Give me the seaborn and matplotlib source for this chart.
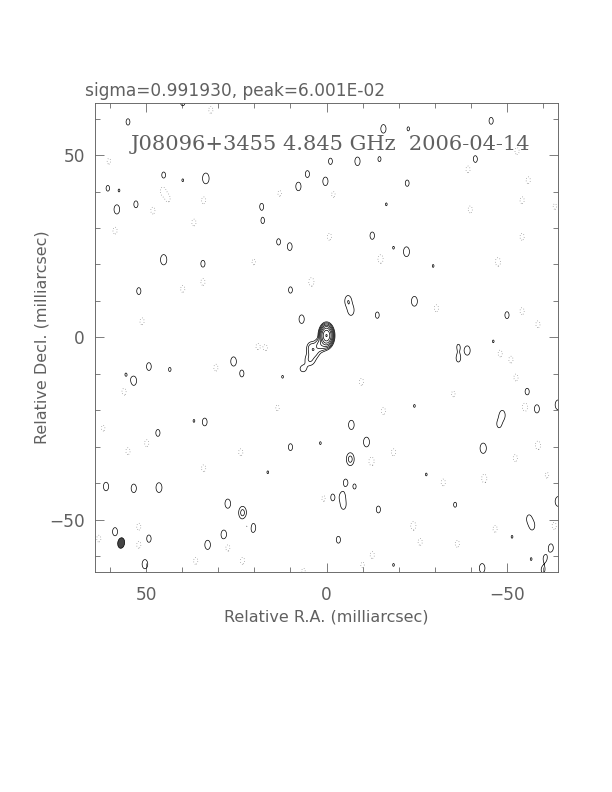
#!/usr/bin/python

'''
Clean map of J08096+3455 at 4.845 GHz (2006-04-14), drawn as contours
'''

import numpy as np
import matplotlib
matplotlib.use('Agg')
from matplotlib import pyplot as plt
from matplotlib.patches import Ellipse
import seaborn as sns

# - data ----------------------------------------------------------------------
title_top = 'sigma=0.991930, peak=6.001E-02'
title_in = 'J08096+3455 4.845 GHz  2006-04-14'
xlabel = 'Relative R.A. (milliarcsec)'
ylabel = 'Relative Decl. (milliarcsec)'
ticks = [-50, 0, 50]

# contour levels, in units of the lowest contour
levels_neg = [-1]
levels_pos = [1, 2, 4, 8, 16, 32, 64, 128]

# source model: core + jet (x mas, y mas, amplitude, sigma_x, sigma_y)
src_x = [0.0, 1.5, 3.5, 4.6, 6.5, 4.3]
src_y = [0.5, -2.0, -3.8, -6.2, -8.6, -2.6]
src_amp = [133.0, 6.0, 3.0, 2.0, 1.5, 1.8]
src_sx = [0.75, 1.0, 1.1, 1.1, 0.9, 0.8]
src_sy = [1.20, 1.0, 1.2, 1.2, 0.9, 1.0]

# residual positive blobs (x mas, y mas, amplitude)
pos_x = [55.1, 45.2, 33.5, 60.7, 57.6, 58.2, 52.9, 45.2, 34.3, 52.1, 39.9,
         -1.1, -8.6, -14.7, 5.3, 7.8, 0.3, -22.4, 18.0, 17.7, -16.6, 13.3,
         10.2, -12.7, -22.2, -18.6, 10.0, -6.0, -6.8, -14.1, 6.9, -15.8,
         -45.7, -41.3, -29.6, -24.4, -50.1, -22.7, 49.3, 43.5, 53.5, 25.8,
         23.5, 33.8, 46.8, 61.2, 53.5, 46.5, 27.4, 23.3, 20.5, 58.7, 49.3,
         28.5, 33.0, 50.4, 55.7, 36.8, -6.9, 10.0, -11.1, -6.6, -5.3,
         -7.8, -1.7, -4.4, -4.7, -14.4, -3.3, 1.7, 16.3, -18.6, 12.2,
         -36.6, -39.1, -36.6, -55.7, -58.4, -64.3, -48.8, -47.9, -43.5,
         -35.7, -64.3, -56.2, -57.1, -62.3, -60.7, -43.2, -60.1, -24.4,
         -27.7, -56.8, -51.5, -46.3, 39.9]
pos_y = [59.1, 44.5, 43.6, 40.9, 40.3, 35.1, 36.5, 21.3, 20.2, 12.7, 43.1,
         48.3, 48.3, 48.9, 44.8, 41.4, 42.8, 42.3, 35.9, 32.0, 36.5, 26.2,
         24.9, 27.9, 23.5, 24.6, 13.0, 10.0, 7.4, 6.1, 5.0, 57.2,
         59.4, 48.9, 19.6, 9.9, 6.1, 57.2, -8.0, -8.8, -11.9, -6.6,
         -9.9, -23.2, -26.2, -40.9, -41.4, -41.2, -45.6, -48.1, -52.2, -53.3,
         -55.2, -54.1, -56.9, -62.2, -10.2, -22.9, -24.0, -30.1, -28.7,
         -33.4, -39.8, -40.9, -43.9, -43.6, -46.1, -47.2, -55.5, -29.0,
         -37.0, -62.4, -10.8, -2.5, -3.6, -5.8, -14.9, -19.6, -18.5, -21.3,
         -23.8, -30.4, -45.9, -45.0, -49.7, -51.7, -57.7, -60.5, -63.3,
         -63.8, -18.8, -37.6, -60.8, -54.7, -1.1, 64.6]
pos_amp = [1.25, 1.25, 1.9, 1.2, 1.05, 1.6, 1.3, 1.8, 1.3, 1.3, 1.05,
           1.25, 1.5, 1.15, 1.3, 1.5, 1.5, 1.25, 1.25, 1.2, 1.05, 1.25,
           1.4, 1.35, 1.7, 1.05, 1.25, 1.9, 1.7, 1.25, 1.5, 1.5,
           1.3, 1.3, 1.05, 1.7, 1.3, 1.1, 1.4, 1.1, 1.6, 1.6,
           1.3, 1.4, 1.3, 1.5, 1.5, 1.7, 1.6, 2.5, 1.8, 1.45,
           1.35, 1.6, 1.6, 1.6, 1.05, 1.05, 1.6, 1.3, 1.7,
           2.5, 1.3, 1.15, 1.3, 1.5, 1.35, 1.3, 1.3, 1.05,
           1.05, 1.05, 1.05, 1.1, 1.6, 1.3, 1.3, 1.45, 1.7, 1.6,
           1.3, 1.8, 1.15, 1.7, 1.3, 1.4, 1.4, 1.2, 1.6,
           1.2, 1.05, 1.05, 1.05, 1.05, 1.05, 1.4]

# residual negative blobs (x mas, y mas, amplitude)
neg_x = [45.4, 44.0, 34.1, 48.2, 58.7, 36.8, 34.3, 39.9, 51.2, 60.4, 32.1,
         13.0, -1.9, -0.8, -15.0, 4.2, 20.2, -39.3, -56.0, -54.3, -39.9,
         -54.3, -47.6, -30.5, -54.3, -58.7, -52.9, -63.4, 30.7, 56.2, 62.0,
         49.9, 55.1, 34.1, 23.8, 52.1, 52.1, 63.2, 21.9, 27.4, 36.3, 23.3,
         19.1, 16.9, -9.7, 13.6, -15.8, -18.6, -12.5, 0.8, -12.7, -10.0,
         6.4, -48.2, -51.2, -52.6, -35.2, -55.1, -58.7, -52.4, -32.4, -43.8,
         -61.2, -24.1, -26.0, -36.3, -46.8, -63.2]
neg_y = [40.1, 38.1, 37.6, 34.8, 29.3, 31.5, 15.2, 13.3, 4.4, 48.3, 62.4,
         39.5, 39.2, 27.6, 21.5, 15.2, 20.7, 46.1, 43.1, 37.6, 35.1,
         27.6, 20.7, 8.0, 7.2, 3.6, 51.1, 35.9, -8.3, -14.9, -24.9,
         -29.0, -31.2, -35.9, -31.5, -51.9, -56.9, -55.2, -51.7, -57.7, -61.3, -61.3,
         -2.5, -2.8, -12.2, -19.3, -20.2, -31.5, -34.0, -44.2, -59.7, -62.4,
         -64.1, -4.4, -6.1, -11.0, -15.5, -19.1, -29.6, -33.1, -39.8, -38.7,
         -37.8, -51.7, -56.1, -56.6, -52.5, -51.7]
neg_amp = [1.5, 1.3, 1.3, 1.3, 1.3, 1.3, 1.3, 1.3, 1.3, 1.2, 1.3,
           1.2, 1.2, 1.3, 1.5, 1.5, 1.2, 1.3, 1.3, 1.3, 1.3,
           1.3, 1.5, 1.3, 1.3, 1.3, 1.3, 1.2, 1.3, 1.3, 1.2,
           1.3, 1.3, 1.3, 1.3, 1.3, 1.3, 1.3, 1.3, 1.3, 1.3, 1.3,
           1.2, 1.2, 1.3, 1.2, 1.3, 1.3, 1.5, 1.2, 1.3, 1.2,
           1.2, 1.3, 1.3, 1.3, 1.2, 1.5, 1.5, 1.3, 1.3, 1.5,
           1.2, 1.5, 1.3, 1.3, 1.3, 1.3]

# restoring beam (mas, mas, deg) and where it is drawn
beam_major = 2.9
beam_minor = 1.9
beam_pa = 8.0
beam_pos = (57.0, -56.4)

# - build image ---------------------------------------------------------------
def gauss(X, Y, x0, y0, amp, sx, sy):
    return amp * np.exp(-0.5 * (((X - x0) / sx) ** 2 + ((Y - y0) / sy) ** 2))

def build_image(X, Y):
    img = np.zeros_like(X)
    for x0, y0, a, sx, sy in zip(src_x, src_y, src_amp, src_sx, src_sy):
        img += gauss(X, Y, x0, y0, a, sx, sy)
    for x0, y0, a in zip(pos_x, pos_y, pos_amp):
        img += gauss(X, Y, x0, y0, a, 0.8, 1.3)
    for x0, y0, a in zip(neg_x, neg_y, neg_amp):
        img -= gauss(X, Y, x0, y0, a, 0.8, 1.3)
    return img

# - run -----------------------------------------------------------------------
if __name__ == '__main__':
    sns.set_style('ticks')
    plt.rcParams['font.family'] = ['DejaVu Sans']
    grey = '#606060'

    lim = 64.3
    xs = np.linspace(-lim - 2, lim + 2, 700)
    X, Y = np.meshgrid(xs, xs)
    img = build_image(X, Y)

    fig = plt.figure(figsize=(8.5, 11), dpi=72)
    ax = fig.add_axes([0.155, 0.278, 0.757, 0.592])

    ax.contour(X, Y, img, levels=levels_neg, colors='#555555',
               linestyles=[(0, (0.8, 3.0))], linewidths=0.7)
    ax.contour(X, Y, img, levels=levels_pos, colors='black',
               linestyles='solid', linewidths=0.7)

    beam = Ellipse(beam_pos, width=beam_minor, height=beam_major,
                   angle=beam_pa, facecolor='#444444', edgecolor='black',
                   linewidth=0.7)
    ax.add_patch(beam)

    ax.set_xlim(lim, -lim)
    ax.set_ylim(-lim, lim)
    ax.set_aspect('auto')

    ax.set_xticks(ticks)
    ax.set_yticks(ticks)
    ax.set_xticklabels(['\u221250', '0', '50'])
    ax.set_yticklabels(['\u221250', '0', '50'])
    ax.set_xticks(np.arange(-60, 61, 10), minor=True)
    ax.set_yticks(np.arange(-60, 61, 10), minor=True)
    ax.tick_params(which='both', direction='in', top=True, right=True,
                   color=grey, labelcolor=grey, labelsize=17)
    ax.tick_params(which='major', length=9, width=0.8)
    ax.tick_params(which='minor', length=5, width=0.8)
    ax.tick_params(axis='x', which='major', pad=14)
    ax.tick_params(axis='y', which='major', pad=10)
    for sp in ax.spines.values():
        sp.set_color(grey)
        sp.set_linewidth(0.9)

    ax.set_xlabel(xlabel, fontsize=16, color=grey)
    ax.set_ylabel(ylabel, fontsize=16, color=grey)
    ax.xaxis.set_label_coords(0.5, -0.081)
    ax.yaxis.set_label_coords(-0.097, 0.5)

    ax.text(-1.0, 51.5, title_in, ha='center', va='baseline', fontsize=21,
            color=grey, family='DejaVu Serif')
    fig.text(0.139, 0.879, title_top, ha='left', va='baseline', fontsize=17,
             color=grey)

    fig.savefig('out.png', dpi=72)
